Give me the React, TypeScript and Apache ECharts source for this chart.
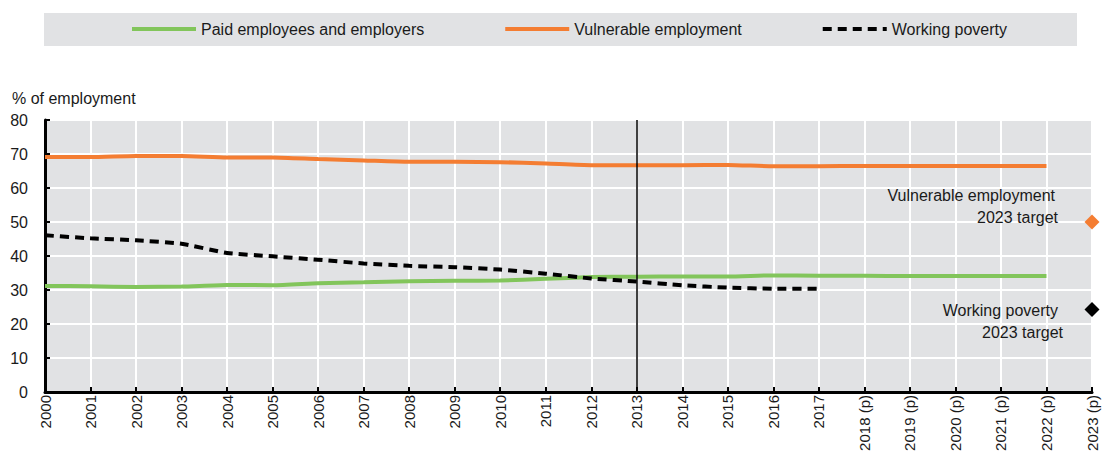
import React, { useEffect, useRef } from "react";
import * as echarts from "echarts";

const years = [
  "2000", "2001", "2002", "2003", "2004", "2005", "2006", "2007", "2008", "2009",
  "2010", "2011", "2012", "2013", "2014", "2015", "2016", "2017",
  "2018 (p)", "2019 (p)", "2020 (p)", "2021 (p)", "2022 (p)", "2023 (p)",
];
const paidEmployees = [
  31.2, 31.1, 30.9, 31.0, 31.5, 31.4, 32.0, 32.3, 32.6, 32.7, 32.8, 33.3, 33.8, 33.9,
  34.0, 34.0, 34.3, 34.2, 34.2, 34.1, 34.1, 34.1, 34.1, null,
];
const vulnerableEmployment = [
  69.1, 69.1, 69.4, 69.4, 69.0, 69.0, 68.5, 68.1, 67.7, 67.7, 67.6, 67.2, 66.7, 66.7,
  66.7, 66.8, 66.4, 66.4, 66.5, 66.5, 66.5, 66.5, 66.5, null,
];
const workingPoverty = [
  46.1, 45.2, 44.6, 43.6, 40.9, 39.9, 38.9, 37.8, 37.1, 36.7, 36.0, 34.8, 33.4, 32.5,
  31.4, 30.7, 30.4, 30.4, null, null, null, null, null, null,
];
const targetYear = "2023 (p)";
const vulnerableTarget = 50;
const povertyTarget = 24.3;
const referenceYear = "2013";
const seriesNames = ["Paid employees and employers", "Vulnerable employment", "Working poverty"];

const FONT = "'Liberation Sans', Arial, Helvetica, sans-serif";
const FS = 16;
const GREEN = "#82c55b";
const ORANGE = "#f47d32";
const BG = "#e1e2e4";

export default function App() {
  const ref = useRef<HTMLDivElement>(null);
  useEffect(() => {
    if (!ref.current) return;
    const chart = echarts.init(ref.current, null, { renderer: "svg" });
    const txt = (text: string, x: number, y: number, align = "right") => ({
      type: "text",
      z: 100,
      style: {
        text, x, y,
        align, verticalAlign: "middle",
        textAlign: align, textVerticalAlign: "middle",
        font: `${FS}px ${FONT}`,
        fill: "#1a1a1a",
      },
    });
    chart.setOption({
      animation: false,
      textStyle: { fontFamily: FONT },
      grid: {
        left: 45, right: 11, top: 120, bottom: 61,
        outerBoundsMode: "none",
        containLabel: false,
        show: true, backgroundColor: BG, borderWidth: 0,
      },
      graphic: [
        { type: "rect", z: -10, shape: { x: 44, y: 13, width: 1033, height: 33 }, style: { fill: BG } },
        txt("% of employment", 12, 98, "left"),
        txt("Vulnerable employment", 1055, 195),
        txt("2023 target", 1058, 217),
        txt("Working poverty", 1058, 310),
        txt("2023 target", 1063, 332),
      ],
      legend: {
        data: seriesNames,
        left: 130, top: 21, padding: 0,
        itemWidth: 64, itemHeight: 14, itemGap: 79,
        itemStyle: { opacity: 0 },
        lineStyle: { width: 4 },
        textStyle: { fontFamily: FONT, fontSize: FS, color: "#1a1a1a" },
      },
      xAxis: {
        type: "category",
        data: years,
        boundaryGap: false,
        axisLine: { lineStyle: { color: "#000", width: 3 } },
        axisTick: { inside: true, length: 5, lineStyle: { color: "#000", width: 2 } },
        axisLabel: { rotate: 90, margin: 3, fontSize: 15, color: "#1a1a1a", fontFamily: FONT, interval: 0 },
        splitLine: { show: true, lineStyle: { color: "#fff", width: 2 } },
      },
      yAxis: {
        type: "value",
        min: 0, max: 80, interval: 10,
        axisLine: { show: true, lineStyle: { color: "#000", width: 3 } },
        axisTick: { show: true, inside: true, length: 5, lineStyle: { color: "#000", width: 2 } },
        axisLabel: { margin: 17, fontSize: FS, color: "#1a1a1a", fontFamily: FONT },
        splitLine: { show: true, lineStyle: { color: "#fff", width: 2 } },
      },
      series: [
        {
          name: seriesNames[0], type: "line", data: paidEmployees, symbol: "none",
          smooth: 0.2, lineStyle: { color: GREEN, width: 4 }, itemStyle: { color: GREEN },
          markLine: {
            silent: true, symbol: ["none", "none"], label: { show: false },
            lineStyle: { color: "#000", width: 1.5, type: "solid" },
            data: [{ xAxis: referenceYear }],
          },
        },
        {
          name: seriesNames[1], type: "line", data: vulnerableEmployment, symbol: "none",
          smooth: 0.2, lineStyle: { color: ORANGE, width: 4 }, itemStyle: { color: ORANGE },
        },
        {
          name: seriesNames[2], type: "line", data: workingPoverty, symbol: "none",
          smooth: 0.2, lineStyle: { color: "#000", width: 4, type: [9, 6] }, itemStyle: { color: "#000" },
        },
        {
          type: "scatter", symbol: "diamond", symbolSize: 15,
          data: [[targetYear, vulnerableTarget]], itemStyle: { color: ORANGE, opacity: 1 },
        },
        {
          type: "scatter", symbol: "diamond", symbolSize: 15,
          data: [[targetYear, povertyTarget]], itemStyle: { color: "#000", opacity: 1 },
        },
      ],
    });
    return () => chart.dispose();
  }, []);
  return (
    <div
      ref={ref}
      style={{ position: "fixed", left: 0, top: 0, width: 1103, height: 453, background: "#fff" }}
    />
  );
}
